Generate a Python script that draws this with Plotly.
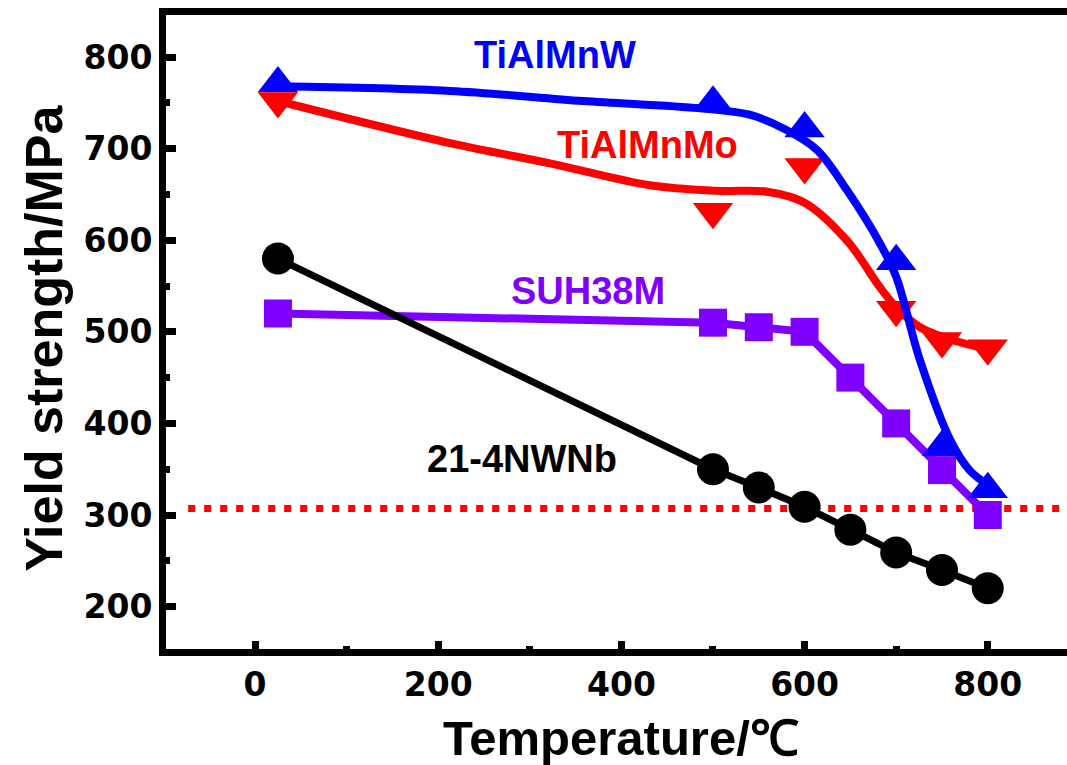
import plotly.graph_objects as go

# ---------------- data ----------------
temp_w = [25, 500, 600, 700, 750, 800]
ys_w = [771, 750, 722, 577, 374, 328]          # TiAlMnW
temp_mo = [25, 500, 600, 700, 750, 800]
ys_mo = [752, 631, 680, 524, 490, 482]         # TiAlMnMo
temp_suh = [25, 500, 550, 600, 650, 700, 750, 800]
ys_suh = [520, 510, 505, 500, 450, 400, 349, 300]   # SUH38M
temp_nb = [25, 500, 550, 600, 650, 700, 750, 800]
ys_nb = [580, 350, 330, 309, 284, 259, 240, 220]    # 21-4NWNb

# smooth fitted curves
fit_w_x = [25, 213, 358, 486, 540, 577, 613, 646, 682, 700, 726, 759, 780, 800]
fit_w_y = [768, 763, 752, 744, 737, 722, 699, 655, 597, 560, 469, 382, 349, 333]
fit_mo_x = [25, 213, 322, 431, 504, 559, 600, 646, 682, 700, 726, 755, 800]
fit_mo_y = [752, 706, 684, 660, 654, 653, 641, 600, 549, 527, 505, 493, 481]

# reference limit line
limit_x = [-73, 900]
limit_y = [307, 307]

x_ticks = [0, 200, 400, 600, 800]
y_ticks = [200, 300, 400, 500, 600, 700, 800]

labels = ["TiAlMnW", "TiAlMnMo", "SUH38M", "21-4NWNb"]
label_x = [328, 429, 363, 292]
label_y = [802, 704, 545, 361]

BLUE = "#0000FF"
RED = "#FF0000"
PURPLE = "#8000FF"
BLACK = "#000000"

fig = go.Figure()

fig.add_trace(go.Scatter(x=limit_x, y=limit_y, mode="lines",
                         line=dict(color=RED, width=7, dash="7px,9px"),
                         hoverinfo="skip"))

fig.add_trace(go.Scatter(x=temp_suh, y=ys_suh, mode="lines+markers",
                         line=dict(color=PURPLE, width=8),
                         marker=dict(symbol="square", size=28, color=PURPLE)))
fig.add_trace(go.Scatter(x=temp_nb, y=ys_nb, mode="lines+markers",
                         line=dict(color=BLACK, width=7),
                         marker=dict(symbol="circle", size=32, color=BLACK)))

fig.add_trace(go.Scatter(x=temp_w, y=ys_w, mode="markers",
                         marker=dict(symbol="triangle-up", size=35, color=BLUE)))
fig.add_trace(go.Scatter(x=temp_mo, y=ys_mo, mode="markers",
                         marker=dict(symbol="triangle-down", size=35, color=RED)))

fig.add_trace(go.Scatter(x=fit_mo_x, y=fit_mo_y, mode="lines",
                         line=dict(color=RED, width=8, shape="spline", smoothing=1.0)))
fig.add_trace(go.Scatter(x=fit_w_x, y=fit_w_y, mode="lines",
                         line=dict(color=BLUE, width=8, shape="spline", smoothing=1.0)))

label_colors = [BLUE, RED, PURPLE, BLACK]
for t, xx, yy, c in zip(labels, label_x, label_y, label_colors):
    fig.add_annotation(x=xx, y=yy, xref="x", yref="y", text=t, showarrow=False,
                       xanchor="center", yanchor="middle",
                       font=dict(family="Liberation Sans, Arial", size=38, color=c, weight="bold"))

# axis titles
fig.add_annotation(x=-0.135, y=0.49, xref="paper", yref="paper",
                   text="Yield strength/MPa", textangle=-90, showarrow=False,
                   xanchor="center", yanchor="middle",
                   font=dict(family="Liberation Sans, Arial", size=52, color=BLACK, weight="bold"))
fig.add_annotation(x=0.505, y=-0.141, xref="paper", yref="paper",
                   text="Temperature/℃", showarrow=False,
                   xanchor="center", yanchor="middle",
                   font=dict(family="Liberation Sans, Arial", size=49, color=BLACK, weight="bold"))

tickfont = dict(family="DejaVu Sans", size=33, color=BLACK, weight="bold")

fig.update_layout(
    width=1067, height=765,
    margin=dict(l=166, r=0, t=15, b=116),
    paper_bgcolor="white", plot_bgcolor="white",
    showlegend=False,
    xaxis=dict(range=[-97.2, 886.5], tickvals=x_ticks, ticktext=[str(v) for v in x_ticks],
               showline=True, linewidth=7, linecolor=BLACK, mirror=True,
               ticks="inside", ticklen=8, tickwidth=7, tickcolor=BLACK,
               minor=dict(dtick=100, tick0=0, ticks="inside", ticklen=3, tickwidth=7,
                          tickcolor=BLACK, showgrid=False),
               showgrid=False, zeroline=False, tickfont=tickfont),
    yaxis=dict(range=[153.7, 845.9], tickvals=y_ticks, ticktext=[str(v) for v in y_ticks],
               showline=True, linewidth=7, linecolor=BLACK, mirror=False,
               ticks="inside", ticklen=10, tickwidth=7, tickcolor=BLACK,
               minor=dict(dtick=50, tick0=0, ticks="inside", ticklen=4, tickwidth=7,
                          tickcolor=BLACK, showgrid=False),
               showgrid=False, zeroline=False, tickfont=tickfont),
)

fig.write_html("out.html")
